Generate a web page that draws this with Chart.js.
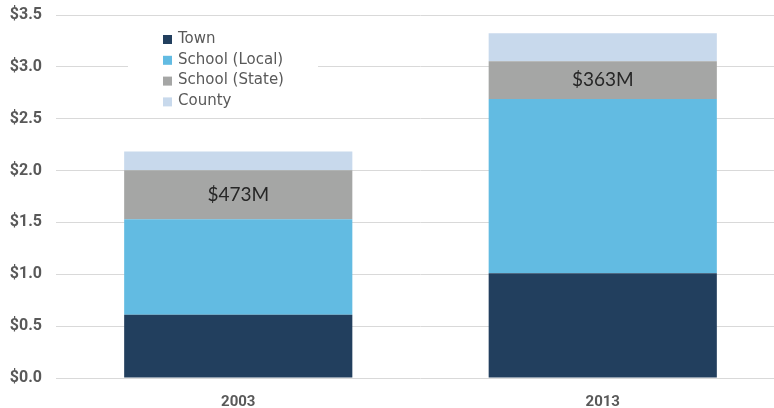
<!DOCTYPE html>
<html>
<head>
<meta charset="utf-8">
<script src="https://cdn.jsdelivr.net/npm/chart.js@4"></script>
<style>
  html, body { margin: 0; padding: 0; background: #fff; overflow: hidden; }
  #wrap { width: 785px; height: 408px; }
</style>
</head>
<body>
<div id="wrap"><canvas id="myChart"></canvas></div>
<script>
// values in $ billions
var years = ['2003', '2013'];
var town = [0.61, 1.01];
var schoolLocal = [0.92, 1.68];
var schoolState = [0.473, 0.363];
var county = [0.18, 0.27];
var stateLabels = ['$473M', '$363M'];
var yTicks = [0, 0.5, 1, 1.5, 2, 2.5, 3, 3.5];

// legend drawn inside the plot, over a white patch
var insideLegend = {
  id: 'insideLegend',
  afterDatasetsDraw: function(chart) {
    var ctx = chart.ctx;
    var a = chart.chartArea;
    ctx.save();
    ctx.fillStyle = '#ffffff';
    ctx.fillRect(a.left + 72, a.top + 12, 190, 88);
    ctx.font = '15px "DejaVu Sans"';
    ctx.textBaseline = 'middle';
    chart.data.datasets.forEach(function(ds, i) {
      var y = a.top + 24 + i * 20.8;
      ctx.fillStyle = ds.backgroundColor;
      ctx.fillRect(a.left + 107, y - 4, 9, 9);
      ctx.fillStyle = '#595959';
      ctx.fillText(ds.label, a.left + 122, y);
    });

    // state share labels
    var meta = chart.getDatasetMeta(2);
    ctx.font = '19px Lato';
    ctx.fillStyle = '#262626';
    ctx.textAlign = 'center';
    meta.data.forEach(function(bar, i) {
      ctx.fillText(stateLabels[i], bar.x, (bar.y + bar.base) / 2);
    });
    ctx.restore();
  }
};

var ctx = document.getElementById('myChart').getContext('2d');
var taxChart = new Chart(ctx, {
  type: 'bar',
  data: {
    labels: years,
    datasets: [
      { label: 'Town', data: town, backgroundColor: '#223F5E' },
      { label: 'School (Local)', data: schoolLocal, backgroundColor: '#62BBE2' },
      { label: 'School (State)', data: schoolState, backgroundColor: '#A5A6A5' },
      { label: 'County', data: county, backgroundColor: '#C8D9EC' }
    ]
  },
  options: {
    responsive: true,
    maintainAspectRatio: false,
    animation: false,
    layout: { padding: { top: 15, right: 0, left: 0, bottom: 0 } },
    plugins: {
      legend: { display: false },
      tooltip: { enabled: false }
    },
    datasets: {
      bar: { categoryPercentage: 1, barPercentage: 0.626 }
    },
    scales: {
      x: {
        stacked: true,
        grid: { display: false },
        border: { display: false },
        ticks: {
          color: '#595959',
          font: { family: 'Roboto', size: 15, weight: 'bold' },
          padding: 7
        },
        afterFit: function(scale) { scale.height = 30; }
      },
      y: {
        stacked: true,
        min: 0,
        max: 3.5,
        afterBuildTicks: function(scale) {
          scale.ticks = yTicks.map(function(v) { return { value: v }; });
        },
        grid: { color: '#D9D9D9', drawTicks: false },
        border: { display: false },
        ticks: {
          color: '#595959',
          font: { family: 'Roboto', size: 16, weight: 'bold' },
          padding: 14,
          callback: function(v) { return '$' + Number(v).toFixed(1); }
        },
        afterFit: function(scale) {
          scale.width = 56;
          scale.paddingTop = 0;
          scale.paddingBottom = 0;
        }
      }
    }
  },
  plugins: [insideLegend]
});
</script>
</body>
</html>
